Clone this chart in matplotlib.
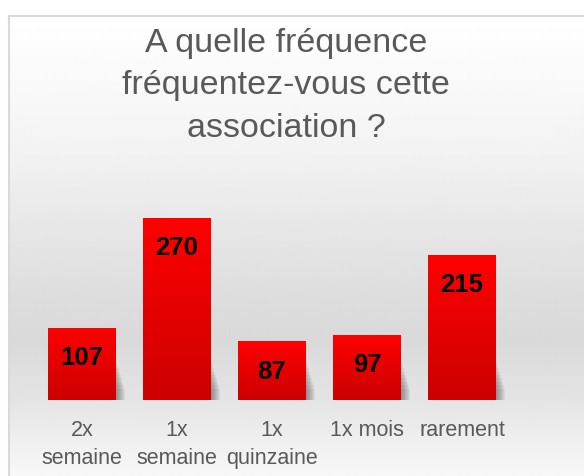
import numpy as np
import matplotlib.pyplot as plt
from matplotlib.colors import LinearSegmentedColormap

plt.rcParams['font.family'] = ['Liberation Sans', 'DejaVu Sans']

# data
categories = ["2x\nsemaine", "1x\nsemaine", "1x\nquinzaine", "1x mois", "rarement"]
values = [107, 270, 87, 97, 215]
title = "A quelle fréquence\nfréquentez-vous cette\nassociation ?"

W, H = 584, 477
fig = plt.figure(figsize=(W / 100, H / 100), dpi=100)

# chart background: grey gradient inside a light frame
bg = fig.add_axes([9 / W, 0, 1 - 9 / W, (H - 17) / H], zorder=-2)
ys = np.array([0, 133, 183, 283, 323, 383, 460])
gs = np.array([255, 243, 235, 221, 217, 228, 248]) / 255
grad = np.interp(np.arange(460), ys, gs)[:, None]
bg.imshow(np.repeat(grad, 2, axis=1), cmap='gray', vmin=0, vmax=1,
          aspect='auto', extent=[0, 1, 0, 1], interpolation='bilinear')
bg.set_xlim(0, 1)
bg.set_ylim(0, 1)
bg.set_xticks([])
bg.set_yticks([])
for s in ['right', 'bottom']:
    bg.spines[s].set_visible(False)
for s in ['left', 'top']:
    bg.spines[s].set_color('#d9d9d9')
    bg.spines[s].set_linewidth(1.5)

fig.text(286 / W, 1 - 28 / H, title, ha='center', va='top', fontsize=24.5,
         color='#595959', linespacing=1.47)

ax = fig.add_axes([34.5 / W, (H - 401) / H, 475 / W, 202.2 / H])
ax.patch.set_alpha(0)
x = np.arange(len(values))
bw = 68 / 95
px = 1 / 95  # one pixel in category units

# soft shadow at the bottom right of each bar
for k in range(10):
    ax.bar(x + k * 0.6 * px, np.minimum(values, 62 - 5 * k), width=bw + k * 0.8 * px,
           color='#444444', alpha=0.07, linewidth=0, zorder=1)

bars = ax.bar(x, values, width=bw, color='red', linewidth=0, zorder=2)
red_cmap = LinearSegmentedColormap.from_list('red_grad', ['#cc0000', '#ff0000'])
for b in bars:
    x0 = b.get_x()
    im = ax.imshow(np.linspace(0, 1, 100)[:, None], cmap=red_cmap, origin='lower',
                   aspect='auto', extent=[x0, x0 + b.get_width(), 0, b.get_height()],
                   zorder=3, interpolation='bilinear')
    im.set_clip_path(b)

for xi, v in zip(x, values):
    ax.annotate(str(v), (xi, v), xytext=(0, -21), textcoords='offset points',
                ha='center', va='center', fontsize=18.5, fontweight='bold',
                color='black', zorder=4)

ax.set_xlim(-0.5, len(values) - 0.5)
ax.set_ylim(0, 300)
ax.set_yticks([])
ax.set_xticks(x)
ax.set_xticklabels(categories, fontsize=15.5, color='#595959', linespacing=1.45)
ax.tick_params(axis='x', length=0, pad=13.5)
for s in ax.spines.values():
    s.set_visible(False)

fig.savefig('out.png', dpi=100)
